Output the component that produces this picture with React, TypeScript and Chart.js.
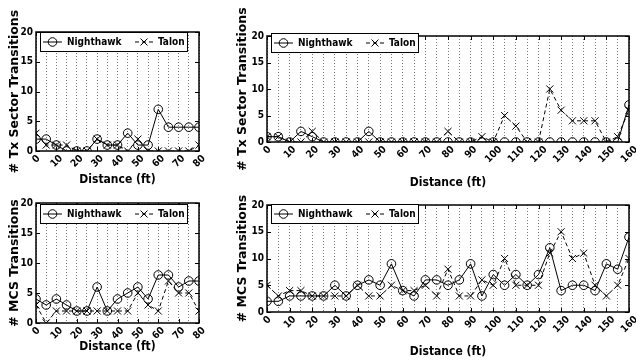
import React, { useEffect, useRef } from 'react';
import { Chart, registerables } from 'chart.js';

Chart.register(...registerables);

// ---------- data ----------
const distShort = [0, 5, 10, 15, 20, 25, 30, 35, 40, 45, 50, 55, 60, 65, 70, 75, 80];
const distLong = [0, 5, 10, 15, 20, 25, 30, 35, 40, 45, 50, 55, 60, 65, 70, 75, 80, 85, 90, 95, 100, 105, 110, 115, 120, 125, 130, 135, 140, 145, 150, 155, 160];

const txShortNighthawk = [2, 2, 1, 0, 0, 0, 2, 1, 1, 3, 1, 1, 7, 4, 4, 4, 4];
const txShortTalon = [3, 1, 1, 1, 0, 0, 2, 1, 1, 0, 2, 0, 0, 0, 0, 0, 1];

const txLongNighthawk = [1, 1, 0, 2, 1, 0, 0, 0, 0, 2, 0, 0, 0, 0, 0, 0, 0, 0, 0, 0, 0, 0, 0, 0, 0, 0, 0, 0, 0, 0, 0, 0, 7];
const txLongTalon = [1, 1, 0, 0, 2, 0, 0, 0, 0, 0, 0, 0, 0, 0, 0, 0, 2, 0, 0, 1, 0, 5, 3, 0, 0, 10, 6, 4, 4, 4, 0, 1, 6];

const mcsShortNighthawk = [4, 3, 4, 3, 2, 2, 6, 2, 4, 5, 6, 4, 8, 8, 6, 7, 7];
const mcsShortTalon = [3, 0, 2, 2, 2, 2, 2, 2, 2, 2, 5, 3, 2, 7, 5, 5, 2];

const mcsLongNighthawk = [2, 2, 3, 3, 3, 3, 5, 3, 5, 6, 5, 9, 4, 3, 6, 6, 5, 6, 9, 3, 7, 5, 7, 5, 7, 12, 4, 5, 5, 4, 9, 8, 14];
const mcsLongTalon = [5, 3, 4, 4, 3, 3, 3, 3, 5, 3, 3, 5, 4, 4, 5, 3, 8, 3, 3, 6, 5, 10, 5, 5, 5, 11, 15, 10, 11, 5, 3, 5, 10];

const xTickLabelsShort = ['0', '10', '20', '30', '40', '50', '60', '70', '80'];
const xTickLabelsLong = ['0', '10', '20', '30', '40', '50', '60', '70', '80', '90', '100', '110', '120', '130', '140', '150', '160'];
const yTickValues = [0, 5, 10, 15, 20];

const seriesNames = ['Nighthawk', 'Talon'];
const yTitleTx = '# Tx Sector Transitions';
const yTitleMcs = '# MCS Transitions';
const xTitle = 'Distance (ft)';

// ---------- styling ----------
const FONT_H = '"DejaVu Sans Condensed", "DejaVu Sans", sans-serif';
const FONT_V = '"DejaVu Sans", sans-serif';

type PanelCfg = {
  dist: number[];
  night: number[];
  talon: number[];
  xLabels: string[];
  yTitle: string;
  pad: { left: number; top: number; right: number; bottom: number };
  yW: number;
  xH: number;
  xTitlePad: number;
  legendDy: number;
};

const panels: PanelCfg[] = [
  { dist: distShort, night: txShortNighthawk, talon: txShortTalon, xLabels: xTickLabelsShort, yTitle: yTitleTx,
    pad: { left: 0, top: 32, right: 437, bottom: 170 }, yW: 36, xH: 39, xTitlePad: 3, legendDy: 0 },
  { dist: distLong, night: txLongNighthawk, talon: txLongTalon, xLabels: xTickLabelsLong, yTitle: yTitleTx,
    pad: { left: 228, top: 36, right: 7, bottom: 167 }, yW: 39, xH: 51, xTitlePad: 3, legendDy: -3 },
  { dist: distShort, night: mcsShortNighthawk, talon: mcsShortTalon, xLabels: xTickLabelsShort, yTitle: yTitleMcs,
    pad: { left: 0, top: 203, right: 437, bottom: 3 }, yW: 36, xH: 34, xTitlePad: 3, legendDy: 1 },
  { dist: distLong, night: mcsLongNighthawk, talon: mcsLongTalon, xLabels: xTickLabelsLong, yTitle: yTitleMcs,
    pad: { left: 228, top: 205, right: 7, bottom: 0 }, yW: 39, xH: 48, xTitlePad: 1, legendDy: -1 },
];

const decorPlugin = {
  id: 'decor',
  afterDatasetsDraw(chart: any, _args: any, opts: any) {
    const { ctx, chartArea: ca, scales } = chart;
    const xs = scales.x;
    const ys = scales.y;
    const labels: string[] = opts.xLabels || [];
    ctx.save();
    ctx.strokeStyle = '#000';
    ctx.lineWidth = 1;
    ctx.beginPath();
    ys.ticks.forEach((t: any) => {
      const y = Math.round(ys.getPixelForValue(t.value)) + 0.5;
      ctx.moveTo(ca.left, y); ctx.lineTo(ca.left + 4, y);
      ctx.moveTo(ca.right, y); ctx.lineTo(ca.right - 4, y);
    });
    labels.forEach((l) => {
      const x = Math.round(xs.getPixelForValue(Number(l))) + 0.5;
      ctx.moveTo(x, ca.bottom); ctx.lineTo(x, ca.bottom - 4);
      ctx.moveTo(x, ca.top); ctx.lineTo(x, ca.top + 4);
    });
    ctx.stroke();
    ctx.lineWidth = 1.5;
    ctx.strokeRect(ca.left, ca.top, ca.right - ca.left, ca.bottom - ca.top);

    ctx.font = `bold 10px ${FONT_H}`;
    ctx.fillStyle = '#000';
    ctx.textAlign = 'center';
    ctx.textBaseline = 'middle';
    labels.forEach((l) => {
      const x = xs.getPixelForValue(Number(l));
      const w = ctx.measureText(l).width;
      const h = 7.3;
      const half = (w + h) / (2 * Math.SQRT2);
      ctx.save();
      ctx.translate(x, ca.bottom + 3 + half);
      ctx.rotate(-Math.PI / 4);
      ctx.fillText(l, 0, 0.5);
      ctx.restore();
    });
    ctx.restore();
  },
  afterDraw(chart: any, _args: any, opts: any) {
    const { ctx, chartArea: ca } = chart;
    const names = chart.data.datasets.map((d: any) => d.label);
    const lx = ca.left + 4;
    const ly = ca.top + (opts.legendDy || 0);
    const w = 147;
    const h = 19;
    const cy = ly + h / 2 + 0.5;
    ctx.save();
    ctx.fillStyle = '#fff';
    ctx.fillRect(lx, ly, w, h);
    ctx.strokeStyle = '#000';
    ctx.lineWidth = 1;
    ctx.strokeRect(lx + 0.5, ly + 0.5, w, h);
    // Nighthawk symbol
    ctx.beginPath();
    ctx.moveTo(lx + 3, cy); ctx.lineTo(lx + 22, cy);
    ctx.stroke();
    ctx.beginPath();
    ctx.arc(lx + 12.5, cy, 4.3, 0, Math.PI * 2);
    ctx.stroke();
    // Talon symbol
    ctx.setLineDash([4, 3]);
    ctx.beginPath();
    ctx.moveTo(lx + 95, cy); ctx.lineTo(lx + 113, cy);
    ctx.stroke();
    ctx.setLineDash([]);
    const mx = lx + 104;
    const r = 3.5;
    ctx.beginPath();
    ctx.moveTo(mx - r, cy - r); ctx.lineTo(mx + r, cy + r);
    ctx.moveTo(mx - r, cy + r); ctx.lineTo(mx + r, cy - r);
    ctx.stroke();
    ctx.font = `bold 10px ${FONT_H}`;
    ctx.fillStyle = '#000';
    ctx.textAlign = 'left';
    ctx.textBaseline = 'middle';
    ctx.fillText(names[0], lx + 27, cy);
    ctx.fillText(names[1], lx + 118, cy);
    ctx.restore();
  },
};

function Panel({ cfg }: { cfg: PanelCfg }) {
  const ref = useRef<HTMLCanvasElement>(null);
  useEffect(() => {
    const canvas = ref.current!;
    const xMax = cfg.dist[cfg.dist.length - 1];
    const chart = new Chart(canvas, {
      type: 'line',
      data: {
        datasets: [
          {
            label: seriesNames[0],
            data: cfg.dist.map((d, i) => ({ x: d, y: cfg.night[i] })),
            borderColor: '#000',
            backgroundColor: 'rgba(0,0,0,0)',
            borderWidth: 1,
            pointStyle: 'circle',
            pointRadius: 4.3,
            pointBorderWidth: 1,
            pointBorderColor: '#000',
            pointBackgroundColor: 'rgba(0,0,0,0)',
            tension: 0,
            fill: false,
            clip: 0,
          },
          {
            label: seriesNames[1],
            data: cfg.dist.map((d, i) => ({ x: d, y: cfg.talon[i] })),
            borderColor: '#000',
            backgroundColor: 'rgba(0,0,0,0)',
            borderWidth: 1,
            borderDash: [4, 3],
            pointStyle: 'crossRot',
            pointRadius: 5,
            pointBorderWidth: 1,
            pointBorderColor: '#000',
            pointBackgroundColor: 'rgba(0,0,0,0)',
            tension: 0,
            fill: false,
            clip: 0,
          },
        ],
      },
      options: {
        animation: false,
        responsive: false,
        devicePixelRatio: 1,
        layout: { padding: cfg.pad },
        plugins: {
          legend: { display: false },
          tooltip: { enabled: false },
          decor: { xLabels: cfg.xLabels, legendDy: cfg.legendDy },
        } as any,
        scales: {
          x: {
            type: 'linear',
            min: 0,
            max: xMax,
            afterFit: (s: any) => { s.height = cfg.xH; },
            ticks: { stepSize: 5, display: false, autoSkip: false },
            grid: { color: '#777', lineWidth: 1, drawTicks: false },
            border: { display: false, dash: [1, 2] },
            title: {
              display: true,
              text: xTitle,
              color: '#000',
              font: { family: FONT_H, size: 12, weight: 'bold' },
              padding: { top: 0, bottom: cfg.xTitlePad },
            },
          },
          y: {
            min: 0,
            max: 20,
            afterFit: (s: any) => { s.width = cfg.yW; },
            afterBuildTicks: (s: any) => { s.ticks = yTickValues.map((v) => ({ value: v })); },
            ticks: { color: '#000', font: { family: FONT_H, size: 10, weight: 'bold' }, padding: 3 },
            grid: { display: false, drawTicks: false },
            border: { display: false },
            title: {
              display: true,
              text: cfg.yTitle,
              color: '#000',
              font: { family: FONT_V, size: 12.5, weight: 'bold' },
              padding: { top: 7, bottom: 0 },
            },
          },
        },
      } as any,
      plugins: [decorPlugin as any],
    });
    return () => chart.destroy();
  }, [cfg]);
  return (
    <canvas
      ref={ref}
      width={636}
      height={360}
      style={{ position: 'absolute', left: 0, top: 0, width: 636, height: 360 }}
    />
  );
}

export default function App() {
  return (
    <div style={{ position: 'fixed', left: 0, top: 0, width: 636, height: 360, background: '#fff', overflow: 'hidden' }}>
      {panels.map((p, i) => (
        <Panel key={i} cfg={p} />
      ))}
    </div>
  );
}
